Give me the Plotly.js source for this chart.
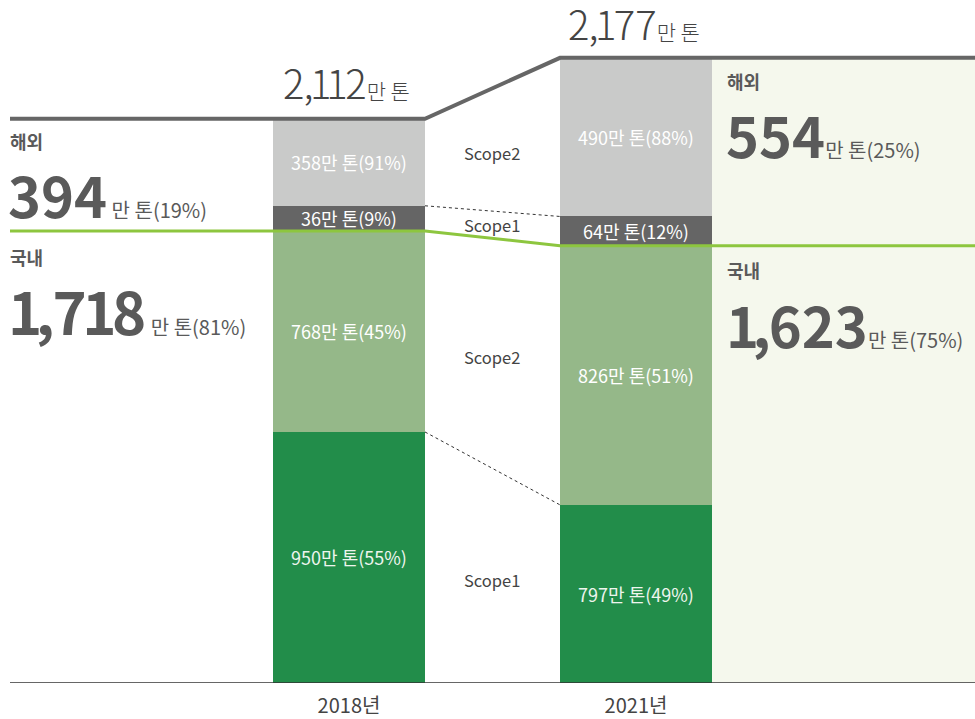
<!DOCTYPE html>
<html>
<head>
<meta charset="utf-8">
<script src="https://cdn.plot.ly/plotly-3.0.1.min.js"></script>
<style>
  html, body { margin: 0; padding: 0; background: #ffffff; }
  #chart { width: 975px; height: 719px; }
</style>
</head>
<body>
<div id="chart"></div>
<script>
// ---- data ----
const years = ["2018년", "2021년"];
// drawn segment heights (as drawn in the picture, 만 톤 scale of the 2018 total)
const domScope1 = [940, 667];
const domScope2 = [753, 970];
const ovsScope1 = [94, 110];
const ovsScope2 = [326, 594];
// labels printed on the segments
const domScope1Text = ["950만 톤(55%)", "797만 톤(49%)"];
const domScope2Text = ["768만 톤(45%)", "826만 톤(51%)"];
const ovsScope1Text = ["36만 톤(9%)", "64만 톤(12%)"];
const ovsScope2Text = ["358만 톤(91%)", "490만 톤(88%)"];
const totalNum = ["2,112", "2,177"];
const overseasNum = ["394", "554"];
const overseasPct = ["만 톤(19%)", "만 톤(25%)"];
const domesticNum = ["1,718", "1,623"];
const domesticPct = ["만 톤(81%)", "만 톤(75%)"];
const scopeNames = ["Scope2", "Scope1", "Scope2", "Scope1"];

// ---- layout helpers ----
const W = 975, H = 719, B = 36;
const plotH = H - B;
const xs = [0, 1];
const pxPerX = 287;
const xRange = [-349 / pxPerX, (W - 349) / pxPerX];
const barW = 152 / pxPerX;
const yMax = 2557.6;
const FONT = "Noto Sans CJK KR, Noto Sans, sans-serif";
const px2x = p => xRange[0] + p / pxPerX;
const px2py = p => (plotH - p) / plotH;
const pxx = p => p / W;

const colors = {
  domS1: "#228d4a", domS2: "#95b889", ovsS1: "#656565", ovsS2: "#c9cac9",
  panel: "#f5f8ed", gray: "#666666", green: "#8dc63f"
};

function barTrace(y, text, color, textColor) {
  return {
    type: "bar", x: xs, y: y, width: barW,
    marker: { color: color, line: { width: 0 } },
    text: text, textposition: "inside", insidetextanchor: "middle",
    constraintext: "none", textangle: 0,
    textfont: { family: FONT, size: 18, color: textColor },
    hoverinfo: "skip", showlegend: false
  };
}

const traces = [
  barTrace(domScope1, domScope1Text, colors.domS1, "#eef5ee"),
  barTrace(domScope2, domScope2Text, colors.domS2, "#ffffff"),
  barTrace(ovsScope1, ovsScope1Text, colors.ovsS1, "#ffffff"),
  barTrace(ovsScope2, ovsScope2Text, colors.ovsS2, "#ffffff")
];

const dom = xs.map((_, i) => domScope1[i] + domScope2[i]);
const ovs1Top = xs.map((_, i) => dom[i] + ovsScope1[i]);
const total = xs.map((_, i) => ovs1Top[i] + ovsScope2[i]);
const e1 = xs[0] + barW / 2, s2 = xs[1] - barW / 2, e2 = xs[1] + barW / 2;
const xL = px2x(10);

const shapes = [
  { type: "rect", xref: "x", yref: "y", x0: e2, x1: xRange[1], y0: 0, y1: total[1],
    fillcolor: colors.panel, line: { width: 0 }, layer: "below" },
  { type: "path", xref: "x", yref: "y",
    path: `M ${xL} ${total[0]} L ${e1} ${total[0]} L ${s2} ${total[1]} L ${xRange[1]} ${total[1]}`,
    line: { color: colors.gray, width: 4 } },
  { type: "path", xref: "x", yref: "y",
    path: `M ${xL} ${dom[0]} L ${e1} ${dom[0]} L ${s2} ${dom[1]} L ${xRange[1]} ${dom[1]}`,
    line: { color: colors.green, width: 3 } },
  { type: "line", xref: "x", yref: "y", x0: e1, x1: s2, y0: ovs1Top[0], y1: ovs1Top[1],
    line: { color: "#333333", width: 1, dash: "dot" } },
  { type: "line", xref: "x", yref: "y", x0: e1, x1: s2, y0: domScope1[0], y1: domScope1[1],
    line: { color: "#333333", width: 1, dash: "dot" } },
  { type: "line", xref: "x", yref: "y", x0: xL, x1: xRange[1], y0: 0, y1: 0,
    line: { color: "#333333", width: 1.5 } }
];

function ann(text, xpx, ypx, size, opts) {
  opts = opts || {};
  return {
    text: text, xref: "paper", yref: "paper", x: pxx(xpx), y: px2py(ypx),
    xanchor: opts.xanchor || "left", yanchor: "middle", showarrow: false,
    font: { family: FONT, size: size, color: opts.color || "#5a5a5a", weight: opts.weight || 400 }
  };
}
// number rendered glyph by glyph, tightening the wide "1" and "," glyphs
function numSpans(num, weight, size, ls1, lsC) {
  const chars = num.split("");
  return chars.map((ch, i) => {
    const next = chars[i + 1];
    let ls = 0;
    if (ch === "1") ls += ls1 / 2;
    if (ch === ",") ls += lsC / 2;
    if (next === "1") ls += ls1 / 2;
    if (next === ",") ls += lsC / 2;
    return `<span style="font-family:${FONT};font-weight:${weight};font-size:${size}px;letter-spacing:${ls}px">${ch}</span>`;
  }).join("");
}
function bigNum(num, suffix, xpx, ypx, size, gap) {
  const t = numSpans(num, 700, size, -9, -4) +
            `<span style="font-family:${FONT};font-weight:400;font-size:20px">${gap}${suffix}</span>`;
  return ann(t, xpx, ypx, size, {});
}
function totalLabel(num, xpx, ypx) {
  const t = numSpans(num, 300, 40, -5, -2) +
            `<span style="font-family:${FONT};font-weight:300;font-size:21px">만 톤</span>`;
  return ann(t, xpx, ypx, 40, { color: "#444444" });
}

const annotations = [
  ann("해외", 8, 141, 18, { weight: 700 }),
  bigNum(overseasNum[0], overseasPct[0], 6, 193, 56, " "),
  ann("국내", 8, 257, 18, { weight: 700 }),
  bigNum(domesticNum[0], domesticPct[0], 6, 310, 58, " "),
  ann("해외", 725, 81, 18, { weight: 700 }),
  bigNum(overseasNum[1], overseasPct[1], 724, 133, 56, ""),
  ann("국내", 725, 270, 18, { weight: 700 }),
  bigNum(domesticNum[1], domesticPct[1], 724, 323, 56, ""),
  totalLabel(totalNum[0], 281, 82),
  totalLabel(totalNum[1], 566, 23),
  ann(scopeNames[0], 492, 153, 16.5, { xanchor: "center", color: "#444444" }),
  ann(scopeNames[1], 492, 225, 16.5, { xanchor: "center", color: "#444444" }),
  ann(scopeNames[2], 492, 357, 16.5, { xanchor: "center", color: "#444444" }),
  ann(scopeNames[3], 492, 580, 16.5, { xanchor: "center", color: "#444444" })
];

const layout = {
  width: W, height: H,
  margin: { l: 0, r: 0, t: 0, b: B, pad: 0 },
  barmode: "stack", bargap: 0,
  paper_bgcolor: "#ffffff", plot_bgcolor: "rgba(0,0,0,0)",
  showlegend: false,
  xaxis: {
    type: "linear", range: xRange, tickvals: xs, ticktext: years,
    showgrid: false, zeroline: false, showline: false, ticks: "",
    ticklabelstandoff: 9,
    tickfont: { family: FONT, size: 20, color: "#444444" }, fixedrange: true
  },
  yaxis: { range: [0, yMax], visible: false, showgrid: false, zeroline: false, fixedrange: true },
  shapes: shapes,
  annotations: annotations
};

Plotly.newPlot("chart", traces, layout, { displayModeBar: false, staticPlot: true });
</script>
</body>
</html>
